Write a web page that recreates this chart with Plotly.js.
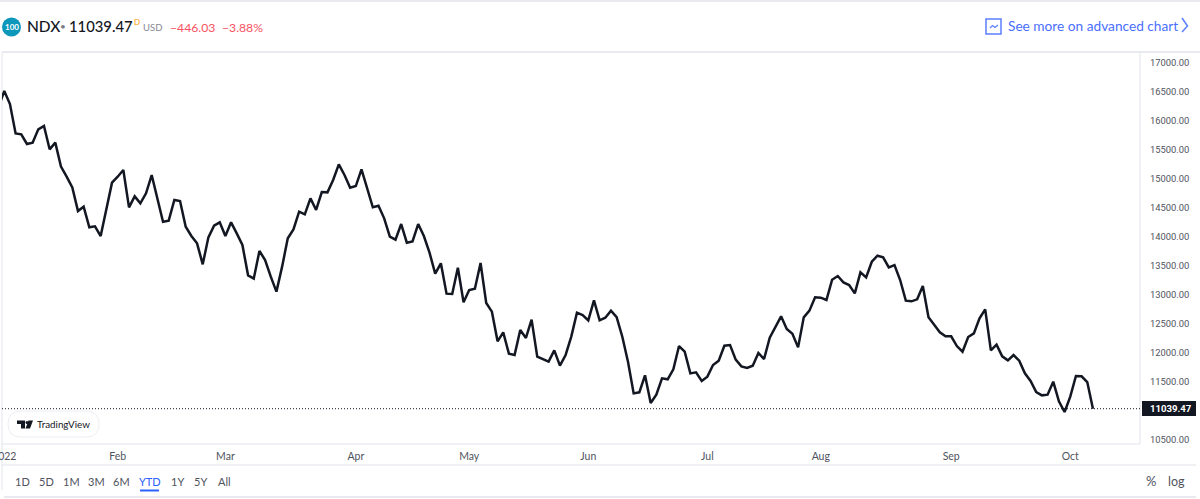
<!DOCTYPE html>
<html><head><meta charset="utf-8">
<script src="https://cdn.plot.ly/plotly-3.0.1.min.js"></script>
<style>html,body{margin:0;padding:0;background:#fff;overflow:hidden}#c{width:1200px;height:499px}</style>
</head><body><div id="c"></div>
<script>
const closes=[16247,16517,16293,15787,15770,15604,15627,15856,15914,15512,15627,15213,15040,14856,14448,14523,14167,14184,14017,14466,
14937,15040,15155,14512,14701,14581,14753,15069,14684,14264,14282,14638,14621,14178,14017,13891,13529,13994,14196,14253,
14017,14253,14063,13862,13339,13282,13759,13604,13316,13058,13489,13977,14132,14437,
14391,14667,14466,14776,14770,14983,15253,15069,14851,14879,15167,14822,14512,14540,14322,14006,13954,14224,13902,13925,
14224,14017,13730,13368,13546,13023,13017,13471,12874,13086,13109,13552,12862,12713,12201,12356,11989,11966,12397,12259,
12575,11937,11897,11851,12046,11782,11966,12282,12696,12655,12563,
12908,12563,12609,12730,12620,12281,11850,11304,11322,11615,11138,11281,11563,11546,11718,12120,12023,11649,11666,11517,
11592,11793,11868,12126,12138,11885,11770,11741,11781,12000,11896,12264,12442,12632,12414,12333,12097,12615,12730,12960,
12954,12914,13264,13327,13218,13172,13028,13391,13304,13574,13678,
13649,13477,13517,13258,12902,12891,12925,13155,12615,12488,12356,12287,12287,12120,12023,12276,12339,12597,12753,12046,
12143,11942,11873,11965,11868,11649,11517,11327,11270,11281,11506,11167,10983,11247,11603,11598,11500,11039.47];
const monthLabels=['2022','Feb','Mar','Apr','May','Jun','Jul','Aug','Sep','Oct'];
const monthIndex=[1,21,40,63,83,104,125,145,168,189];
const priceTicks=[17000,16500,16000,15500,15000,14500,14000,13500,13000,12500,12000,11500,10500];
const lastPrice=11039.47;
const rangeButtons=['1D','5D','1M','3M','6M','YTD','1Y','5Y','All'];
const buttonCenters=[22,46,71,96,121,149.5,177,200,224];

const F='Lato, sans-serif', N='Roboto, sans-serif';
const L=2,R=1140,T=52,B=444;
const px=x=>(x-L)/(R-L), py=y=>(B-y)/(B-T);
const note=(text,x,y,size,color,extra={})=>Object.assign({text,xref:'paper',yref:'paper',x:px(x),y:py(y),showarrow:false,xanchor:'left',yanchor:'middle',font:Object.assign({family:F,size,color},extra.f||{}),borderpad:0,borderwidth:0},extra.a||{});
const hline=(x0,x1,y,color,w=1)=>({type:'line',xref:'paper',yref:'paper',x0:px(x0),x1:px(x1),y0:py(y),y1:py(y),line:{color,width:w},layer:'below'});
const vline=(x,y0,y1,color,w=1)=>({type:'line',xref:'paper',yref:'paper',x0:px(x),x1:px(x),y0:py(y0),y1:py(y1),line:{color,width:w},layer:'below'});
const poly=(pts,fill,line,w)=>({type:'path',xref:'paper',yref:'paper',path:pts.map((p,i)=>(i?'L':'M')+px(p[0])+','+py(p[1])).join(' ')+(fill?' Z':''),fillcolor:fill||'rgba(0,0,0,0)',line:{color:line||'rgba(0,0,0,0)',width:w||0},layer:'above'});
const B1='#e0e3eb', BLUE='#2962ff', RED='#f7525f', GRAY='#50535e', LINK='#4a6fff';

const shapes=[
 hline(0,1200,1,B1,1.5), hline(2,1200,52,B1,1.5),
 vline(2,52,490,'#eceef3',1.5), vline(1140,52,444,B1,1),
 hline(2,1140,444,B1,1), hline(2,1196,465,B1,1), hline(4,1196,497,B1,1.5),
 {type:'line',xref:'paper',yref:'y',x0:0,x1:1,y0:lastPrice,y1:lastPrice,line:{color:'#131722',width:1,dash:'1px,2px'},layer:'below'},
 {type:'rect',xref:'paper',yref:'paper',x0:px(1142),x1:px(1196),y0:py(416),y1:py(401),fillcolor:'#131722',line:{width:0},layer:'above'},
 {type:'circle',xref:'paper',yref:'paper',x0:px(2),x1:px(21),y0:py(36.5),y1:py(17.5),fillcolor:'#0c97bb',line:{width:0},layer:'above'},
 {type:'path',xref:'paper',yref:'paper',path:`M${px(21)},${py(411)} L${px(86)},${py(411)} Q${px(99)},${py(411)} ${px(99)},${py(424)} Q${px(99)},${py(437)} ${px(86)},${py(437)} L${px(21)},${py(437)} Q${px(8)},${py(437)} ${px(8)},${py(424)} Q${px(8)},${py(411)} ${px(21)},${py(411)} Z`,fillcolor:'#fff',line:{color:'#eceef3',width:1},layer:'above'},
 poly([[17,420.5],[25,420.5],[25,428.5],[21,428.5],[21,424],[17,424]],'#131722'),
 poly([[28.5,420.5],[33,420.5],[30,428.5],[25.5,428.5]],'#131722'),
 {type:'circle',xref:'paper',yref:'paper',x0:px(25.5),x1:px(28.5),y0:py(424),y1:py(421),fillcolor:'#131722',line:{width:0},layer:'above'},
 {type:'rect',xref:'paper',yref:'paper',x0:px(986),x1:px(1001),y0:py(34),y1:py(19),fillcolor:'#fff',line:{color:'#5b7fff',width:1.5},layer:'above'},
 poly([[990,28],[992.5,25.5],[995,27.5],[998,25]],null,'#5b7fff',1.2),
 poly([[1182,18],[1187.5,26],[1182,32]],null,'#5b7fff',1.5),
 hline(140,159,490.5,BLUE,2)
];

const annotations=[
 note('100',11.5,27,8,'#fff',{a:{xanchor:'center'},f:{weight:700}}),
 note('NDX',27,26,15.5,'#131722',{f:{weight:500}}),
 note('•',60,26,10,'#787b86'),
 note('11039.47',69,26,14.8,'#131722',{f:{weight:500}}),
 note('D',134,22,8,'#ff9800'),
 note('USD',143,28,9.5,'#868993'),
 note('−446.03',170,27,12.2,RED),
 note('−3.88%',222,27,12.2,RED),
 note('See more on advanced chart',1008,26,13.7,LINK),
 note('TradingView',37,424,9.8,'#131722'),
 note('11039.47',1150,408.5,9.6,'#fff',{f:{family:N,weight:700}}),
 note('%',1151,481,13,GRAY,{a:{xanchor:'center'}}),
 note('log',1176,481,12.5,GRAY,{a:{xanchor:'center'}})
];
rangeButtons.forEach((b,i)=>annotations.push(note(b,buttonCenters[i],481,11,b==='YTD'?BLUE:GRAY,{a:{xanchor:'center'}})));

Plotly.newPlot('c',[{type:'scatter',mode:'lines',x:closes.map((_,i)=>i),y:closes,line:{color:'#131722',width:2.5,shape:'linear'},hoverinfo:'skip'}],{
 width:1200,height:499,paper_bgcolor:'#fff',plot_bgcolor:'#fff',showlegend:false,
 margin:{l:L,r:1200-R,t:T,b:499-B,pad:0},
 xaxis:{range:[0.6,201.3],tickmode:'array',tickvals:monthIndex,ticktext:monthLabels,showgrid:false,zeroline:false,showline:false,ticks:'',ticklabelstandoff:4,ticklabeloverflow:'allow',tickfont:{family:F,size:10.5,color:GRAY},fixedrange:true},
 yaxis:{side:'right',range:[10431,17190],tickmode:'array',tickvals:priceTicks,ticktext:priceTicks.map(v=>v.toFixed(2)),showgrid:false,zeroline:false,showline:false,ticks:'',ticklabelstandoff:9,tickfont:{family:N,size:9.4,color:GRAY},fixedrange:true},
 shapes,annotations
},{displayModeBar:false,staticPlot:true});
</script></body></html>
